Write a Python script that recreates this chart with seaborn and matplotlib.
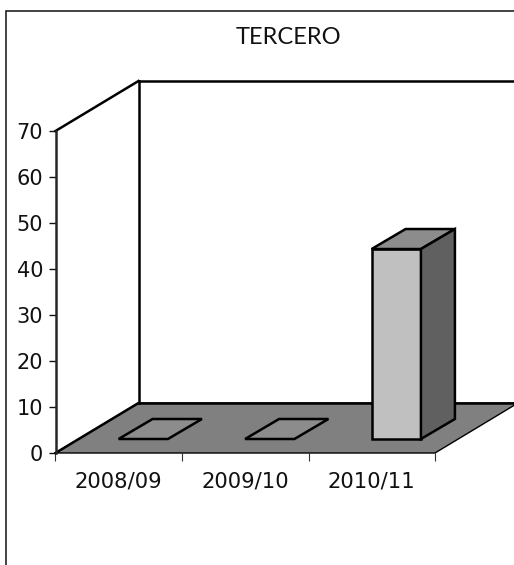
import matplotlib
matplotlib.use("Agg")
import matplotlib.pyplot as plt
from matplotlib.patches import Polygon, Rectangle
import seaborn as sns

seasons = ["2008/09", "2009/10", "2010/11"]
values = [0, 0, 41.3]
y_ticks = [0, 10, 20, 30, 40, 50, 60, 70]

W, H = 514, 565
# plot box in pixels
LEFT, RIGHT, TOP, BOTTOM = 55.5, 435.0, 131.0, 453.0
# depth of the fake 3d, pixels
WALL_DX, WALL_DY = 83, 50
GAP_DX, GAP_DY = 24.5, 14
BAR_DX, BAR_DY = 34, 20
LW = 1.8

sns.set_style("ticks")
fig = plt.figure(figsize=(W / 100, H / 100), dpi=100)
ax = fig.add_axes([LEFT / W, 1 - BOTTOM / H, (RIGHT - LEFT) / W, (BOTTOM - TOP) / H])

# outer chart border, runs off the right and bottom edges
fig.add_artist(Rectangle((6.0 / W, -0.1), 1, 1 - 11.5 / H + 0.1, transform=fig.transFigure,
                         fill=False, ec="#222222", lw=1.2))

sns.barplot(x=seasons, y=values, color="#c0c0c0", width=0.39, saturation=1,
            edgecolor="black", linewidth=LW, ax=ax, zorder=5)
ax.set_xlim(-0.5, 2.5)
ax.set_ylim(0, 70)

ux = (RIGHT - LEFT) / 3
uy = (BOTTOM - TOP) / 70


def depth(dx, dy):
    return dx / ux, dy / uy


def face(points, color, z, lw=LW):
    ax.add_patch(Polygon(points, closed=True, fc=color, ec="black", lw=lw,
                         clip_on=False, zorder=z, joinstyle="miter"))


wx, wy = depth(WALL_DX, WALL_DY)
x0, x1 = ax.get_xlim()

# floor
face([(x0, 0), (x1, 0), (x1 + wx, wy), (x0 + wx, wy)], "#808080", 2, lw=1.0)
# walls
line = dict(color="black", lw=LW, clip_on=False, zorder=3, solid_capstyle="projecting")
ax.plot([x0, x0 + wx], [70, 70 + wy], **line)
ax.plot([x0, x0 + wx], [0, wy], **line)
ax.plot([x0 + wx, x0 + wx], [wy, 70 + wy], **line)
ax.plot([x0 + wx, x1 + wx], [70 + wy, 70 + wy], **line)
ax.plot([x0 + wx, x1 + wx], [wy, wy], **line)

# move the bars back onto the floor and add the sides
gx, gy = depth(GAP_DX, GAP_DY)
bx, by = depth(BAR_DX, BAR_DY)
for patch in ax.patches[:len(values)]:
    patch.set_x(patch.get_x() + gx)
    patch.set_y(gy)
    patch.set_clip_on(False)
    left = patch.get_x()
    right = left + patch.get_width()
    top = gy + patch.get_height()
    face([(left, top), (right, top), (right + bx, top + by), (left + bx, top + by)], "#8c8c8c", 5)
    if patch.get_height() > 0:
        face([(right, gy), (right + bx, gy + by), (right + bx, top + by), (right, top)], "#606060", 5)
    else:
        patch.set_visible(False)

sns.despine(ax=ax, top=True, right=True, bottom=True)
ax.spines["left"].set_linewidth(LW)
ax.spines["left"].set_zorder(4)
ax.patch.set_alpha(0)

ax.set_yticks(y_ticks)
ax.tick_params(axis="y", length=5, width=1, labelsize=15, pad=4, colors="#111111")
ax.set_xticks(range(len(seasons)))
ax.set_xticklabels(seasons)
ax.tick_params(axis="x", which="major", length=0, labelsize=15.2, pad=13, colors="#111111")
ax.set_xticks([-0.5, 0.5, 1.5, 2.5], minor=True)
ax.tick_params(axis="x", which="minor", length=6, width=0.8, color="#333333")

fig.text(288.5 / W, 1 - 37 / H, "TERCERO", family="Lato", fontsize=17,
         ha="center", va="center", color="#111111")

fig.savefig("out.png", dpi=100, facecolor="white")
